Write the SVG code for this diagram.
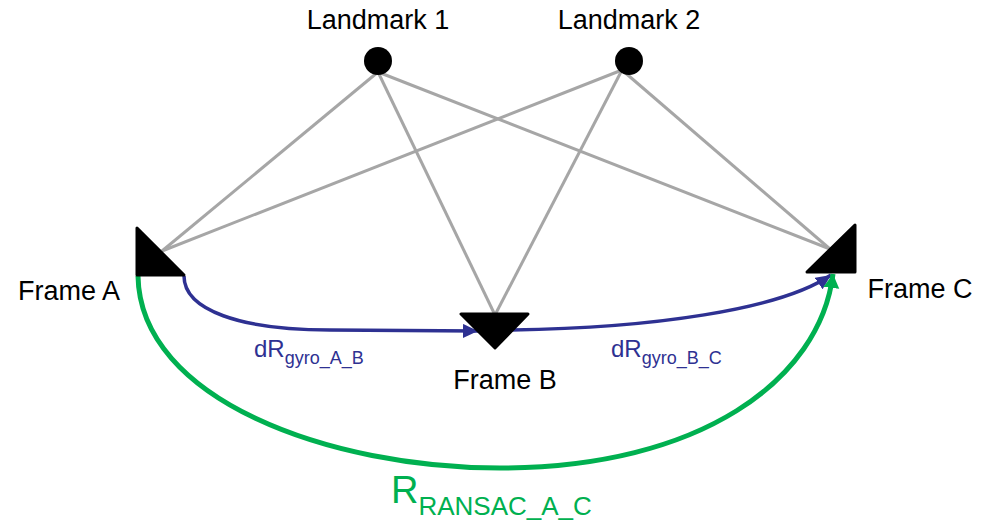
<svg xmlns="http://www.w3.org/2000/svg" width="992" height="524" viewBox="0 0 992 524">
<defs>
<style>
.lbl{font-family:"Liberation Sans",Arial,sans-serif;font-size:27px;fill:#000}
.gray{stroke:#a6a6a6;stroke-width:3;fill:none}
.frame{fill:#000;stroke:#000;stroke-width:3;stroke-linejoin:round}
.blue{stroke:#2e3192;stroke-width:3.5;fill:none}
.green{stroke:#00b050;stroke-width:5;fill:none}
.bt{font-family:"Liberation Sans",Arial,sans-serif;fill:#2e3192}
.gt{font-family:"Liberation Sans",Arial,sans-serif;fill:#00b050}
</style>
<marker id="ab" markerUnits="userSpaceOnUse" markerWidth="18" markerHeight="16" refX="15" refY="7" orient="auto">
<path d="M0,0 L15,7 L0,14 Z" fill="#2e3192"/>
</marker>
<marker id="ag" markerUnits="userSpaceOnUse" markerWidth="18" markerHeight="18" refX="14" refY="8" orient="auto">
<path d="M0,0 L14,8 L0,16 Z" fill="#00b050"/>
</marker>
</defs>
<rect width="992" height="524" fill="#fff"/>
<g id="connectors">
<g id="sightlines">
<line class="gray" x1="378" y1="72" x2="162" y2="251"/>
<line class="gray" x1="378" y1="72" x2="495" y2="315"/>
<line class="gray" x1="378" y1="72" x2="830" y2="249"/>
<line class="gray" x1="622" y1="70" x2="162" y2="251"/>
<line class="gray" x1="622" y1="70" x2="495" y2="315"/>
<line class="gray" x1="622" y1="70" x2="830" y2="249"/>
</g>
<path id="gyro-ab" class="blue" d="M184,276 C184,310 240,330 330,330 L478,331" marker-end="url(#ab)"/>
<path id="gyro-bc" class="blue" d="M512,330 C650,328 780,310 831,275" marker-end="url(#ab)"/>
<path id="ransac-ac" class="green" d="M138,276 C140,400 330,468 500,468 C700,468 820,380 833,274" marker-end="url(#ag)"/>
</g>
<g id="landmark1">
<circle cx="378" cy="61" r="14" fill="#000"/>
<text class="lbl" x="378" y="29" text-anchor="middle">Landmark 1</text>
</g>
<g id="landmark2">
<circle cx="629" cy="61" r="14" fill="#000"/>
<text class="lbl" x="629" y="29" text-anchor="middle">Landmark 2</text>
</g>
<g id="frameA">
<polygon class="frame" points="137,228 137,275 184,275"/>
<text class="lbl" x="69" y="300" text-anchor="middle">Frame A</text>
</g>
<g id="frameB">
<polygon class="frame" points="461,314 528,314 495,348"/>
<text class="lbl" x="505" y="389" text-anchor="middle">Frame B</text>
</g>
<g id="frameC">
<polygon class="frame" points="855,225 855,272 807,272"/>
<text class="lbl" x="920" y="298" text-anchor="middle">Frame C</text>
</g>
<g id="labels">
<text class="bt" x="254" y="357" font-size="24">dR<tspan font-size="18" dy="7">gyro_A_B</tspan></text>
<text class="bt" x="611" y="357" font-size="24">dR<tspan font-size="18" dy="7">gyro_B_C</tspan></text>
<text class="gt" x="391" y="503" font-size="38">R<tspan font-size="26" dy="12">RANSAC_A_C</tspan></text>
</g>
</svg>
